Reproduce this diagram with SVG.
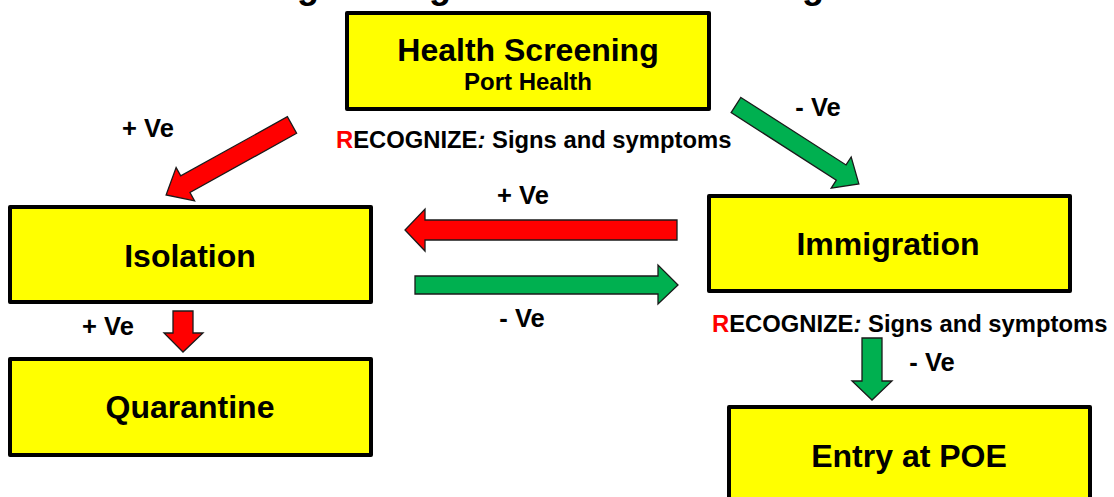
<svg xmlns="http://www.w3.org/2000/svg" width="1114" height="497" viewBox="0 0 1114 497">
  <style>
    .box { fill: #FFFF00; stroke: #000; stroke-width: 4; stroke-linejoin: round; }
    .t { font-family: "Liberation Sans", Arial, sans-serif; font-weight: bold; fill: #000; text-anchor: middle; }
    .big { font-size: 32px; }
    .sub { font-size: 24px; }
    .lbl { font-size: 25.5px; }
    .note { font-size: 23.8px; text-anchor: start; }
    .red { fill: #FF0000; }
    .pos { fill: #FF0000; stroke: #1a1a1a; stroke-width: 1.3; stroke-linejoin: miter; }
    .neg { fill: #00B050; stroke: #1a1a1a; stroke-width: 1.3; stroke-linejoin: miter; }
  </style>

  <!-- title line sits above the top edge; only its descenders fall inside -->
  <g id="title" class="t" style="font-size:36px">
    <text x="308" y="-2">g</text>
    <text x="440" y="-2">g</text>
    <text x="813" y="-2">g</text>
  </g>

  <g id="health-screening">
    <rect class="box" x="347" y="13" width="362" height="96"/>
    <text class="t big" x="528" y="61">Health Screening</text>
    <text class="t sub" x="528" y="90">Port Health</text>
  </g>

  <g id="isolation">
    <rect class="box" x="10" y="207" width="361" height="95"/>
    <text class="t big" x="190" y="267">Isolation</text>
  </g>

  <g id="immigration">
    <rect class="box" x="709" y="196" width="361" height="95"/>
    <text class="t big" x="888" y="255">Immigration</text>
  </g>

  <g id="quarantine">
    <rect class="box" x="10" y="359" width="361" height="96"/>
    <text class="t big" x="190" y="418">Quarantine</text>
  </g>

  <g id="entry-poe">
    <rect class="box" x="729" y="407" width="361" height="100"/>
    <text class="t big" x="909" y="467">Entry at POE</text>
  </g>

  <g id="connectors">
    <!-- screening positive: to isolation -->
    <polygon class="pos" transform="translate(292,125) rotate(150.95)"
             points="0,-9.5 122,-9.5 122,-19 144,0 122,19 122,9.5 0,9.5"/>
    <!-- screening negative: to immigration -->
    <polygon class="neg" transform="translate(736,105) rotate(32.7)"
             points="0,-9 125,-9 125,-18.5 146,0 125,18.5 125,9 0,9"/>
    <!-- immigration positive: back to isolation -->
    <polygon class="pos" points="677,220 425,220 425,209 405,230 425,251 425,240 677,240"/>
    <!-- isolation negative: on to immigration -->
    <polygon class="neg" points="415,276 658,276 658,265 678,285 658,304 658,294 415,294"/>
    <!-- isolation positive: to quarantine -->
    <polygon class="pos" points="173,311 193,311 193,333 203,333 183,352 164,333 173,333"/>
    <!-- immigration negative: to entry -->
    <polygon class="neg" points="862,338 882,338 882,381 892,381 872,400 852,381 862,381"/>
  </g>

  <g id="labels">
    <text class="t lbl" x="148" y="137">+ Ve</text>
    <text class="t lbl" x="818" y="116">- Ve</text>
    <text class="t lbl" x="523" y="204">+ Ve</text>
    <text class="t lbl" x="522" y="327">- Ve</text>
    <text class="t lbl" x="108" y="335">+ Ve</text>
    <text class="t lbl" x="932" y="371">- Ve</text>
    <text class="t note" x="336" y="148"><tspan class="red">R</tspan>ECOGNIZE<tspan font-style="italic">:</tspan> Signs and symptoms</text>
    <text class="t note" x="712" y="332"><tspan class="red">R</tspan>ECOGNIZE<tspan font-style="italic">:</tspan> Signs and symptoms</text>
  </g>
</svg>
